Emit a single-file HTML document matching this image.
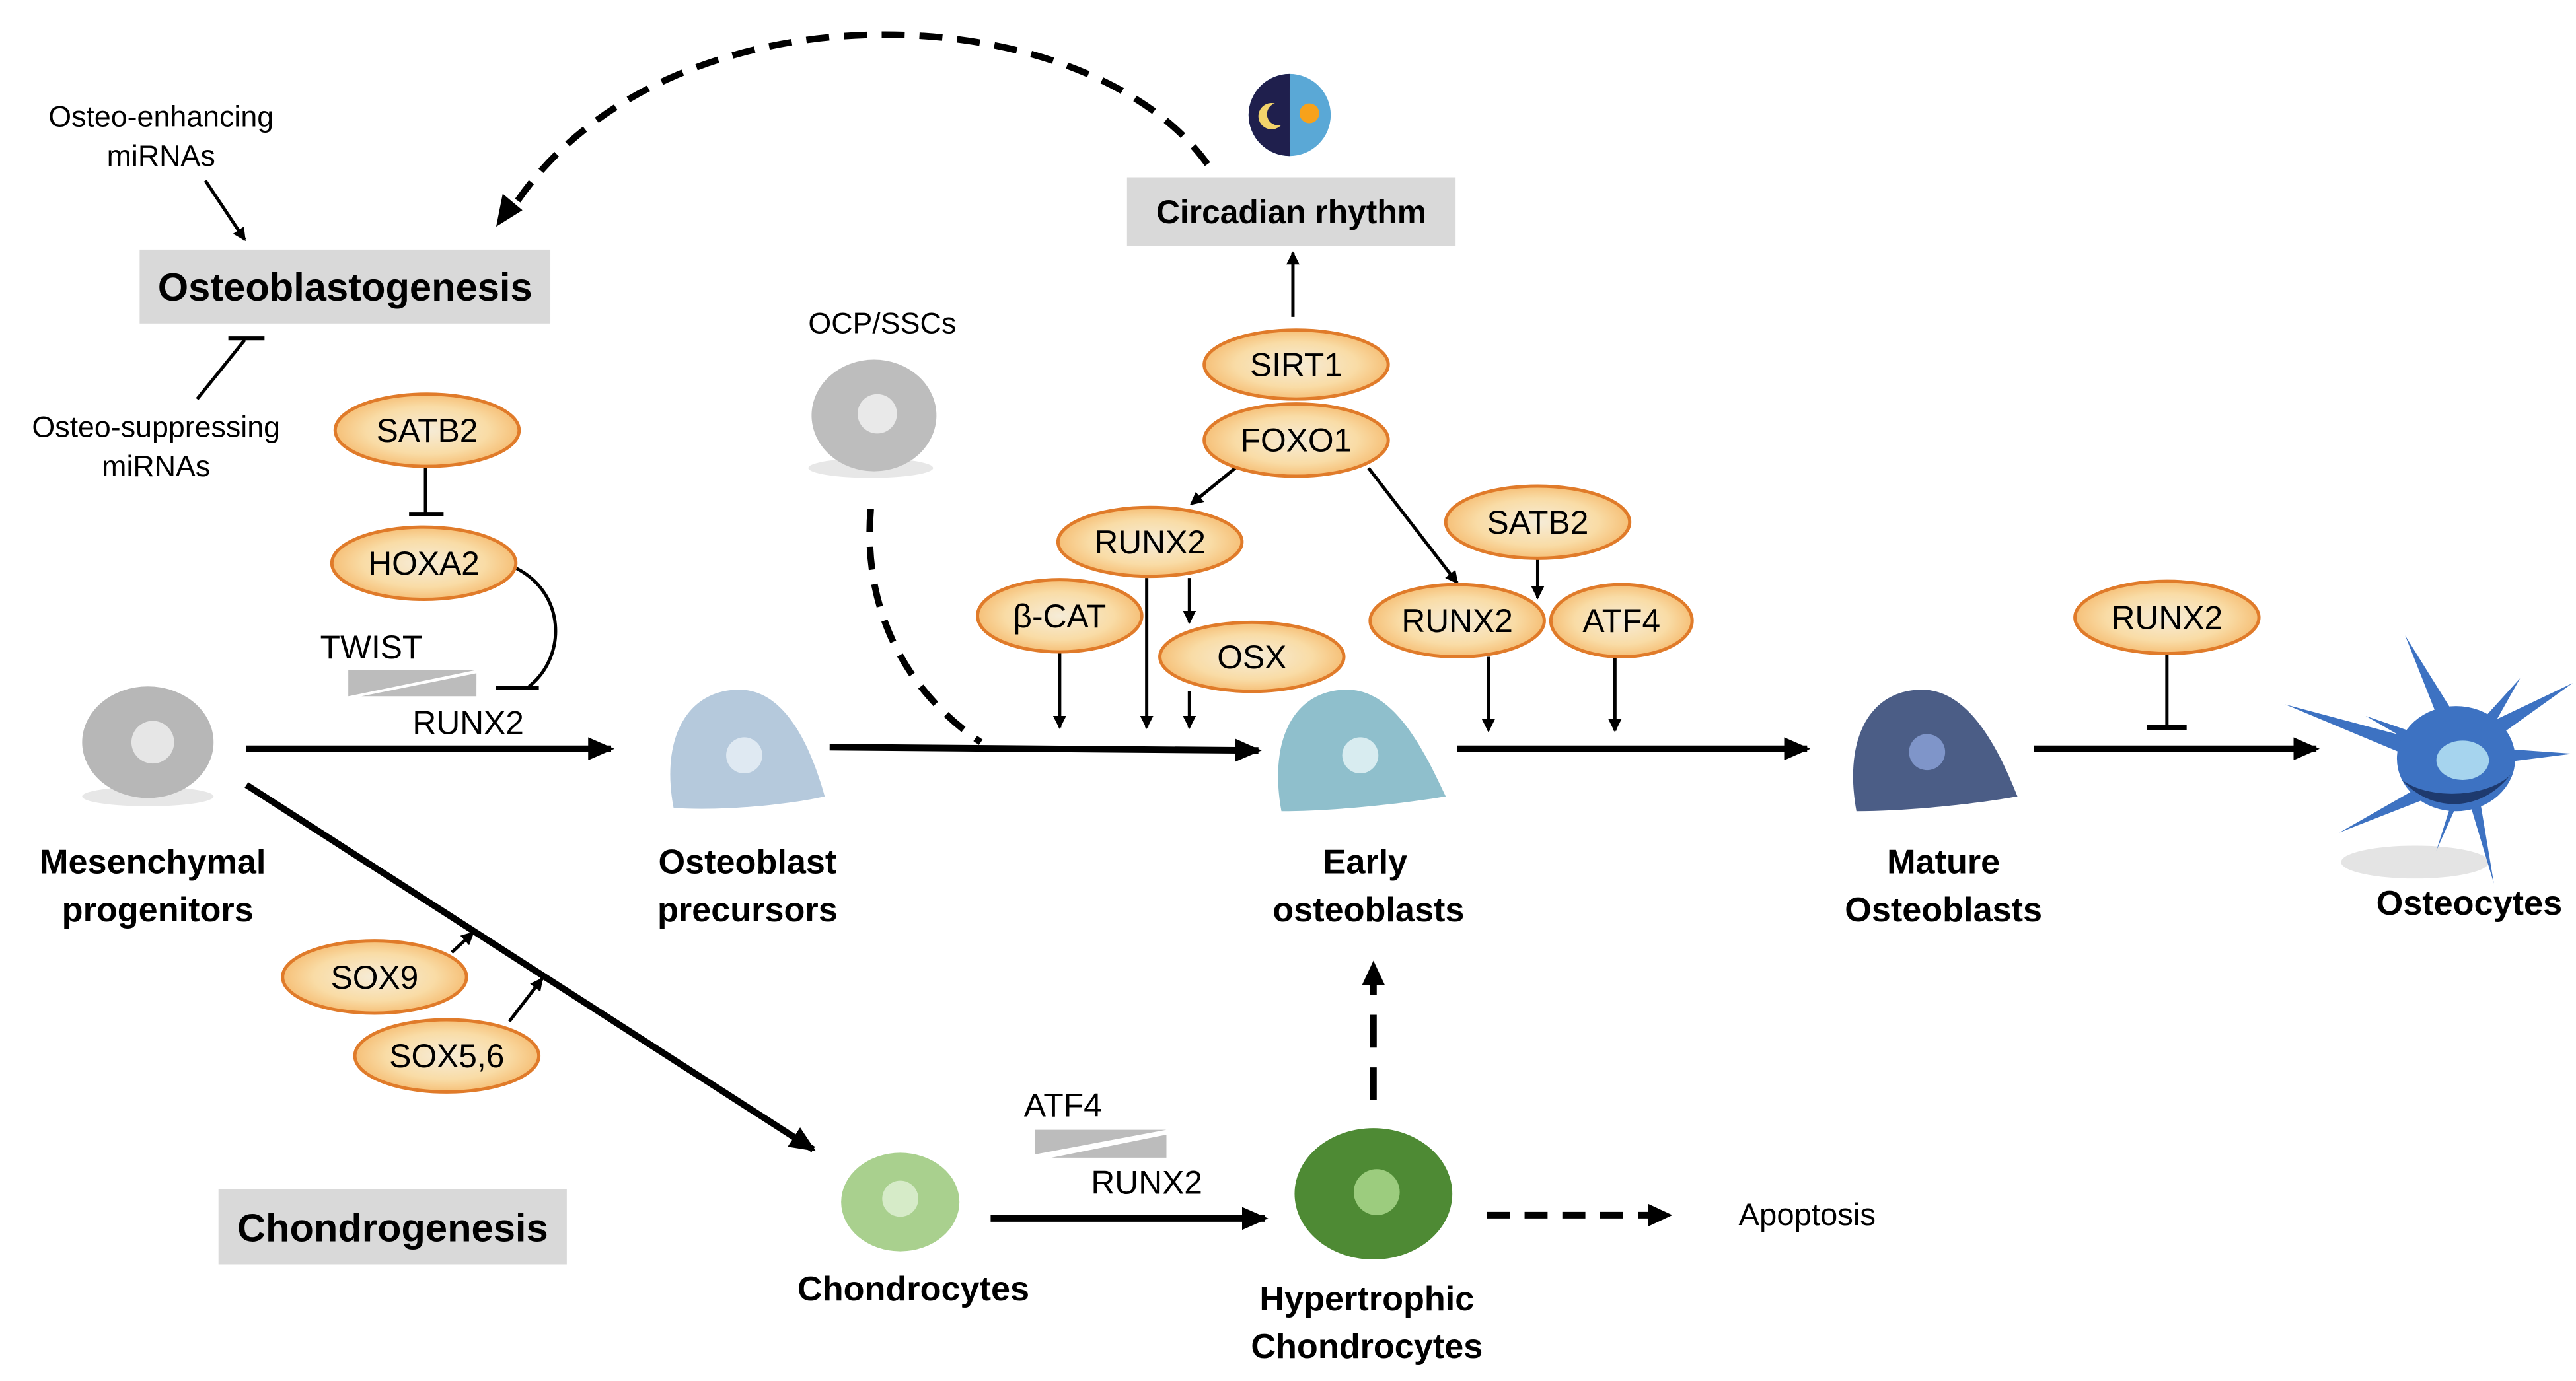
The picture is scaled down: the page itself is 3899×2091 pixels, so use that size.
<!DOCTYPE html>
<html><head><meta charset="utf-8"><style>
html,body{margin:0;padding:0;background:#fff;}
svg{display:block;}
text{font-family:"Liberation Sans Narrow","Liberation Sans",sans-serif;fill:#000;}
</style></head><body>
<svg width="3899" height="2091" viewBox="0 0 1568 841" preserveAspectRatio="none" xmlns="http://www.w3.org/2000/svg">
<defs>
<radialGradient id="og" cx="50%" cy="50%" r="55%"><stop offset="0" stop-color="#f6ecd8"/><stop offset="0.6" stop-color="#f9dca6"/><stop offset="1" stop-color="#f5b86b"/></radialGradient>
<marker id="ah" markerWidth="8" markerHeight="8" refX="7" refY="4" orient="auto" markerUnits="userSpaceOnUse"><path d="M0,0 L8,4 L0,8 z" fill="#000"/></marker>
<marker id="ahb" markerWidth="16" markerHeight="14" refX="14" refY="7" orient="auto" markerUnits="userSpaceOnUse"><path d="M0,0 L16,7 L0,14 z" fill="#000"/></marker>
</defs>

<!-- dashed arc -->
<path d="M735,100 C660,-5 400,-15 310,130" fill="none" stroke="#000" stroke-width="4" stroke-dasharray="14,9"/>
<path d="M302,138 L306,118 L318,128 z" fill="#000"/>

<!-- circadian icon -->
<circle cx="785" cy="70" r="25" fill="#5aa8d6"/>
<path d="M785,45 A25,25 0 0 0 785,95 z" fill="#1f1f4d"/>
<path d="M776,63 A8,8 0 1 0 780,76 A6,6 0 1 1 776,63 z" fill="#f2d36b"/>
<circle cx="797" cy="69" r="6" fill="#f7a21b"/>

<rect x="686" y="108" width="200" height="42" fill="#d9d9d9"/>
<text x="786" y="136" font-size="20" font-weight="bold" text-anchor="middle">Circadian rhythm</text>
<line x1="787" y1="193" x2="787" y2="154" stroke="#000" stroke-width="2" marker-end="url(#ah)"/>

<!-- miRNAs -->
<text x="98" y="77" font-size="18" text-anchor="middle">Osteo-enhancing</text>
<text x="98" y="101" font-size="18" text-anchor="middle">miRNAs</text>
<line x1="125" y1="110" x2="149" y2="146" stroke="#000" stroke-width="2" marker-end="url(#ah)"/>
<rect x="85" y="152" width="250" height="45" fill="#d9d9d9"/>
<text x="210" y="183" font-size="24" font-weight="bold" text-anchor="middle">Osteoblastogenesis</text>
<line x1="120" y1="243" x2="149" y2="207" stroke="#000" stroke-width="2"/>
<line x1="139" y1="206" x2="161" y2="206" stroke="#000" stroke-width="2.5"/>
<text x="95" y="266" font-size="18" text-anchor="middle">Osteo-suppressing</text>
<text x="95" y="290" font-size="18" text-anchor="middle">miRNAs</text>

<!-- SATB2 / HOXA2 -->
<line x1="259" y1="285" x2="259" y2="313" stroke="#000" stroke-width="2"/>
<line x1="249" y1="313" x2="270" y2="313" stroke="#000" stroke-width="2.5"/>
<path d="M312,345 C345,360 345,400 322,418" fill="none" stroke="#000" stroke-width="2"/>
<line x1="302" y1="419" x2="328" y2="419" stroke="#000" stroke-width="2.5"/>
<text x="226" y="401" font-size="20" text-anchor="middle">TWIST</text>
<path d="M212,408 L290,408 L212,424 z" fill="#bcbcbc"/>
<path d="M290,410 L290,424 L220,424 z" fill="#bcbcbc"/>
<text x="285" y="447" font-size="20" text-anchor="middle">RUNX2</text>

<!-- main arrows -->
<g stroke="#000" stroke-width="4" fill="none">
<line x1="150" y1="456" x2="372" y2="456" marker-end="url(#ahb)"/>
<line x1="505" y1="455" x2="766" y2="457" marker-end="url(#ahb)"/>
<line x1="887" y1="456" x2="1100" y2="456" marker-end="url(#ahb)"/>
<line x1="1238" y1="456" x2="1410" y2="456" marker-end="url(#ahb)"/>
<line x1="150" y1="478" x2="495" y2="700" marker-end="url(#ahb)"/>
<line x1="603" y1="742" x2="770" y2="742" marker-end="url(#ahb)"/>
</g>
<path d="M530,310 C525,370 550,420 597,452" fill="none" stroke="#000" stroke-width="4" stroke-dasharray="14,9"/>
<line x1="836" y1="670" x2="836" y2="600" stroke="#000" stroke-width="4" stroke-dasharray="20,12"/>
<path d="M829,600 L836,585 L843,600 z" fill="#000"/>
<line x1="905" y1="740" x2="1005" y2="740" stroke="#000" stroke-width="4" stroke-dasharray="14,9"/>
<path d="M1003,733 L1018,740 L1003,747 z" fill="#000"/>

<!-- small arrows -->
<g stroke="#000" stroke-width="2" fill="none">
<line x1="752" y1="285" x2="725" y2="307" marker-end="url(#ah)"/>
<line x1="645" y1="397" x2="645" y2="443" marker-end="url(#ah)"/>
<line x1="698" y1="352" x2="698" y2="443" marker-end="url(#ah)"/>
<line x1="724" y1="352" x2="724" y2="379" marker-end="url(#ah)"/>
<line x1="724" y1="421" x2="724" y2="443" marker-end="url(#ah)"/>
<line x1="833" y1="285" x2="887" y2="355" marker-end="url(#ah)"/>
<line x1="936" y1="340" x2="936" y2="364" marker-end="url(#ah)"/>
<line x1="906" y1="400" x2="906" y2="445" marker-end="url(#ah)"/>
<line x1="983" y1="400" x2="983" y2="445" marker-end="url(#ah)"/>
<line x1="1319" y1="398" x2="1319" y2="443"/>
<line x1="275" y1="580" x2="288" y2="568" marker-end="url(#ah)"/>
<line x1="310" y1="622" x2="330" y2="596" marker-end="url(#ah)"/>
</g>
<line x1="1307" y1="443" x2="1331" y2="443" stroke="#000" stroke-width="3"/>

<!-- ellipses -->
<g stroke="#e07b2a" stroke-width="2" fill="url(#og)">
<ellipse cx="260" cy="262" rx="56" ry="22"/>
<ellipse cx="258" cy="343" rx="56" ry="22"/>
<ellipse cx="789" cy="222" rx="56" ry="21"/>
<ellipse cx="789" cy="268" rx="56" ry="22"/>
<ellipse cx="700" cy="330" rx="56" ry="21"/>
<ellipse cx="645" cy="375" rx="50" ry="22"/>
<ellipse cx="762" cy="400" rx="56" ry="21"/>
<ellipse cx="936" cy="318" rx="56" ry="22"/>
<ellipse cx="887" cy="378" rx="53" ry="22"/>
<ellipse cx="987" cy="378" rx="43" ry="22"/>
<ellipse cx="1319" cy="376" rx="56" ry="22"/>
<ellipse cx="228" cy="595" rx="56" ry="22"/>
<ellipse cx="272" cy="643" rx="56" ry="22"/>
</g>
<g font-size="20" text-anchor="middle">
<text x="260" y="269">SATB2</text>
<text x="258" y="350">HOXA2</text>
<text x="789" y="229">SIRT1</text>
<text x="789" y="275">FOXO1</text>
<text x="700" y="337">RUNX2</text>
<text x="645" y="382">β-CAT</text>
<text x="762" y="407">OSX</text>
<text x="936" y="325">SATB2</text>
<text x="887" y="385">RUNX2</text>
<text x="987" y="385">ATF4</text>
<text x="1319" y="383">RUNX2</text>
<text x="228" y="602">SOX9</text>
<text x="272" y="650">SOX5,6</text>
</g>

<!-- cells -->
<ellipse cx="90" cy="485" rx="40" ry="6" fill="#ddd" opacity="0.7"/>
<ellipse cx="90" cy="452" rx="40" ry="34" fill="#b7b7b7"/>
<circle cx="93" cy="452" r="13" fill="#e6e6e6"/>
<ellipse cx="530" cy="285" rx="38" ry="6" fill="#ddd" opacity="0.7"/>
<ellipse cx="532" cy="253" rx="38" ry="34" fill="#bdbdbd"/>
<circle cx="534" cy="252" r="12" fill="#e9e9e9"/>
<path d="M410,492 C402,450 418,420 450,420 C480,420 495,460 502,485 C480,490 440,494 410,492 z" fill="#b5c9dc"/>
<circle cx="453" cy="460" r="11" fill="#dfe9f2"/>
<path d="M780,494 C772,450 788,420 820,420 C850,420 868,460 880,485 C850,490 810,494 780,494 z" fill="#8fbfcc"/>
<circle cx="828" cy="460" r="11" fill="#d8ecf0"/>
<path d="M1130,494 C1122,450 1138,420 1170,420 C1200,420 1218,460 1228,485 C1200,490 1160,494 1130,494 z" fill="#4b5d86"/>
<circle cx="1173" cy="458" r="11" fill="#7f95c9"/>
<!-- osteocyte -->
<ellipse cx="1470" cy="525" rx="45" ry="10" fill="#e4e4e4"/>
<g fill="#3d72c2">
<path d="M1485,440 L1464,387 L1497,440 z"/>
<path d="M1505,445 L1566,416 L1510,456 z"/>
<path d="M1510,455 L1566,459 L1510,466 z"/>
<path d="M1505,445 L1534,413 L1512,452 z"/>
<path d="M1470,450 L1391,429 L1470,462 z"/>
<path d="M1475,448 L1440,436 L1478,458 z"/>
<path d="M1480,475 L1424,507 L1488,482 z"/>
<path d="M1495,480 L1483,518 L1500,480 z"/>
<path d="M1500,478 L1518,538 L1508,478 z"/>
</g>
<ellipse cx="1495" cy="462" rx="36" ry="32" fill="#3d72c2"/>
<path d="M1462,475 C1480,495 1510,495 1528,472 C1515,485 1480,488 1462,475 z" fill="#1e3a6e"/>
<ellipse cx="1499" cy="463" rx="16" ry="12" fill="#a6d4ee"/>
<ellipse cx="548" cy="732" rx="36" ry="30" fill="#a9d08e"/>
<circle cx="548" cy="730" r="11" fill="#d6ebc8"/>
<ellipse cx="836" cy="727" rx="48" ry="40" fill="#4e8a34"/>
<circle cx="838" cy="726" r="14" fill="#9ccc7e"/>

<!-- labels -->
<g font-size="21" font-weight="bold" text-anchor="middle">
<text x="93" y="532">Mesenchymal</text>
<text x="96" y="561">progenitors</text>
<text x="455" y="532">Osteoblast</text>
<text x="455" y="561">precursors</text>
<text x="831" y="532">Early</text>
<text x="833" y="561">osteoblasts</text>
<text x="1183" y="532">Mature</text>
<text x="1183" y="561">Osteoblasts</text>
<text x="1503" y="557">Osteocytes</text>
<text x="556" y="792">Chondrocytes</text>
<text x="832" y="798">Hypertrophic</text>
<text x="832" y="827">Chondrocytes</text>
</g>
<text x="537" y="203" font-size="18" text-anchor="middle">OCP/SSCs</text>
<rect x="133" y="724" width="212" height="46" fill="#d9d9d9"/>
<text x="239" y="756" font-size="24" font-weight="bold" text-anchor="middle">Chondrogenesis</text>
<text x="647" y="680" font-size="20" text-anchor="middle">ATF4</text>
<path d="M630,688 L710,688 L630,703 z" fill="#bcbcbc"/>
<path d="M710,691 L710,705 L640,705 z" fill="#bcbcbc"/>
<text x="698" y="727" font-size="20" text-anchor="middle">RUNX2</text>
<text x="1100" y="746" font-size="19" text-anchor="middle">Apoptosis</text>
</svg>
</body></html>
